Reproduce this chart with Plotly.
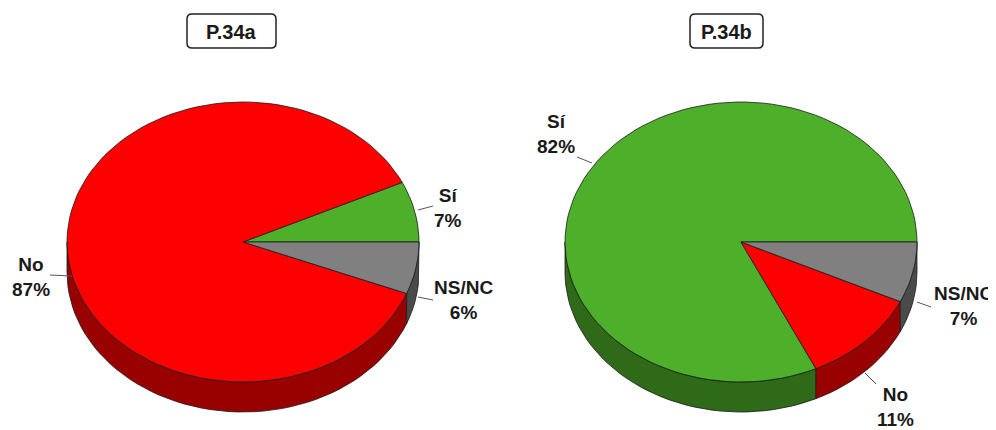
import numpy as np
import plotly.graph_objects as go

# ---- data ----
categories = ["Sí", "No", "NS/NC"]
values_a = [7, 87, 6]
values_b = [82, 11, 7]
titles = ["P.34a", "P.34b"]

top_colors = {"Sí": "#4DAF2A", "No": "#FF0000", "NS/NC": "#808080"}
side_colors = {"Sí": "#2E6A18", "No": "#990000", "NS/NC": "#4A4A4A"}

# ---- geometry (layout) ----
pies = [
    dict(cx=243, cy=242, a=176, b=140, d=30),
    dict(cx=741, cy=242, a=176, b=140, d=30),
]

fig = go.Figure()


def arc(g, t0, t1, dy=0.0, n=120):
    t = np.linspace(t0, t1, max(3, int(n * abs(t1 - t0) / (2 * np.pi)) + 3))
    return g["cx"] + g["a"] * np.cos(t), g["cy"] - g["b"] * np.sin(t) + dy


def add_pie(g, values):
    total = float(sum(values))
    bounds = np.concatenate([[0.0], np.cumsum(values) / total * 2 * np.pi])
    # rim (side) first
    for i, cat in enumerate(categories):
        lo, hi = max(bounds[i], np.pi), min(bounds[i + 1], 2 * np.pi)
        if lo < hi:
            xt, yt = arc(g, lo, hi)
            xb, yb = arc(g, hi, lo, dy=g["d"])
            xs = np.concatenate([xt, xb, xt[:1]])
            ys = np.concatenate([yt, yb, yt[:1]])
            fig.add_trace(go.Scatter(x=xs, y=ys, mode="lines", fill="toself",
                                     fillcolor=side_colors[cat],
                                     line=dict(color="#1a1a1a", width=0.8),
                                     hoverinfo="skip", showlegend=False))
    # top faces
    for i, cat in enumerate(categories):
        xa, ya = arc(g, bounds[i], bounds[i + 1])
        xs = np.concatenate([[g["cx"]], xa, [g["cx"]]])
        ys = np.concatenate([[g["cy"]], ya, [g["cy"]]])
        fig.add_trace(go.Scatter(x=xs, y=ys, mode="lines", fill="toself",
                                 fillcolor=top_colors[cat],
                                 line=dict(color="#1a1a1a", width=0.8),
                                 hoverinfo="skip", showlegend=False))


add_pie(pies[0], values_a)
add_pie(pies[1], values_b)

lab_font = dict(family="Liberation Sans, Arial, sans-serif", size=19, color="#1a1a1a")

# labels: (text position, leader line start -> end)
labels = [
    (0, "Sí", 448, 208, (418, 210), (433, 206)),
    (0, "No", 31, 277, (50, 275), (72, 276)),
    (0, "NS/NC", 463, 300, (418, 297), (433, 300)),
    (1, "Sí", 556, 134, (577, 157), (592, 163)),
    (1, "No", 895, 407, (865, 373), (876, 384)),
    (1, "NS/NC", 963, 306, (917, 302), (931, 307)),
]
vals = [values_a, values_b]
for p, cat, x, y, l0, l1 in labels:
    v = vals[p][categories.index(cat)]
    fig.add_annotation(x=x, y=y, xref="x", yref="y", showarrow=False,
                       text=f"<b>{cat}</b><br><b>{v}%</b>", font=lab_font,
                       align="center")
    fig.add_shape(type="line", x0=l0[0], y0=l0[1], x1=l1[0], y1=l1[1],
                  xref="x", yref="y", line=dict(color="#555555", width=1))

# title boxes
boxes = [(187, 276, 14, 48), (690, 763, 14, 48)]
r = 5
for (x0, x1, y0, y1), t in zip(boxes, titles):
    path = (f"M {x0+r},{y0} L {x1-r},{y0} Q {x1},{y0} {x1},{y0+r} "
            f"L {x1},{y1-r} Q {x1},{y1} {x1-r},{y1} L {x0+r},{y1} "
            f"Q {x0},{y1} {x0},{y1-r} L {x0},{y0+r} Q {x0},{y0} {x0+r},{y0} Z")
    fig.add_shape(type="path", path=path, xref="x", yref="y",
                  line=dict(color="#222222", width=1.5), fillcolor="white")
    fig.add_annotation(x=(x0 + x1) / 2, y=(y0 + y1) / 2 + 1, xref="x", yref="y",
                       showarrow=False, text=f"<b>{t}</b>",
                       font=dict(family="Liberation Sans, Arial, sans-serif",
                                 size=20, color="#1a1a1a"))

# the page body has an 8px margin; offset the axis ranges so data units = page pixels
off = 8
fig.update_xaxes(range=[off, 996 + off], visible=False, fixedrange=True)
fig.update_yaxes(range=[430 + off, off], visible=False, fixedrange=True)
fig.update_layout(width=996, height=430, margin=dict(l=0, r=0, t=0, b=0),
                  paper_bgcolor="white", plot_bgcolor="white", showlegend=False)

fig.write_html("out.html")
